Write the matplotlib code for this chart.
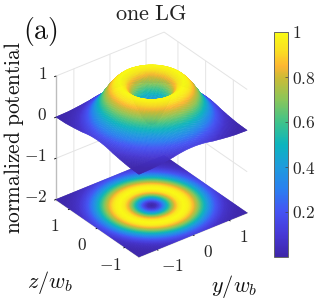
import numpy as np
import matplotlib
matplotlib.use("Agg")
import matplotlib.pyplot as plt
from matplotlib.colors import LinearSegmentedColormap, Normalize
from matplotlib.cm import ScalarMappable
from matplotlib.ticker import NullFormatter

plt.rcParams["mathtext.fontset"] = "cm"
plt.rcParams["font.family"] = ["cmr10", "DejaVu Sans"]
plt.rcParams["axes.unicode_minus"] = False
plt.rcParams["axes.formatter.use_mathtext"] = True

# radial potential profile
radius = [0, .1, .2, .3, .4, .5, .6, .7, .8, .9, 1.0, 1.1, 1.2, 1.3, 1.4, 1.5, 1.6, 1.7, 1.8, 1.9, 2.2]
potential = [0, .05, .20, .41, .63, .82, .95, 1.0, .97, .87, .74, .59, .44, .31, .21, .14, .08, .05, .03, .015, .003]
axis_range = (-1.5, 1.5)
z_range = (-2, 1)
xy_ticks = [-1, 0, 1]
xy_labels = ["$-1$", "$0$", "$1$"]
z_ticks = [-2, -1, 0, 1]
z_labels = ["$-2$", "$-1$", "$0$", "$1$"]
cb_ticks = [0.2, 0.4, 0.6, 0.8, 1]
cb_labels = ["$0.2$", "$0.4$", "$0.6$", "$0.8$", "$1$"]
floor_level = -2
parula = [(0, "#3E26A8"), (.1, "#4738D6"), (.2, "#4553F3"), (.3, "#2A7FF0"), (.4, "#1E9BDD"),
          (.5, "#0CB4BE"), (.6, "#3FC38A"), (.7, "#8AC65A"), (.8, "#CDBB35"), (.85, "#FDB632"),
          (.92, "#FAE022"), (1, "#F9FB15")]

cmap = LinearSegmentedColormap.from_list("parula", parula, N=256)
norm = Normalize(0, 1)

W = 280
fig = plt.figure(figsize=(3.32, 2.99), dpi=100)
ax = fig.add_axes([(151.5 - .5135 * W) / 332, (154.5 - .5135 * W) / 299, W / 332, W / 299],
                  projection="3d", computed_zorder=False)
ax.patch.set_alpha(0)
ax.set_proj_type("ortho")
ax.view_init(elev=32, azim=-127.5)
ax.set_box_aspect((1, 1, 1.066), zoom=.838)

g = np.linspace(*axis_range, 121)
X, Y = np.meshgrid(g, g)
Z = np.interp(np.hypot(X, Y), radius, potential)
colors = cmap(norm(Z))

ax.plot_surface(X, Y, np.full_like(Z, floor_level), facecolors=colors, rstride=1, cstride=1,
                shade=False, linewidth=.3, antialiased=True, zorder=1)
ax.plot_surface(X, Y, Z, facecolors=colors, rstride=1, cstride=1,
                shade=False, linewidth=.3, antialiased=True, zorder=2)

ax.set_xlim(*axis_range, view_margin=0)
ax.set_ylim(*axis_range, view_margin=0)
ax.set_zlim(*z_range, view_margin=0)
ax.set_xticks(xy_ticks)
ax.set_yticks(xy_ticks)
ax.set_zticks(z_ticks)

for axis in (ax.xaxis, ax.yaxis, ax.zaxis):
    axis.set_pane_color((1, 1, 1, 0))
    axis.pane.set_edgecolor((1, 1, 1, 0))
    axis._axinfo["grid"].update(color="#E4E4E4", linewidth=.7)
    axis._axinfo["tick"].update(inward_factor=.15, outward_factor=0, linewidth={True: .6, False: .6}, color="#555555")
    axis.line.set_color("#BDBDBD")
    axis.line.set_linewidth(1)
    axis.label.set_visible(False)
    axis.offsetText.set_visible(False)
    axis.set_major_formatter(NullFormatter())
    for tick in axis.get_major_ticks():
        tick.label1.set_visible(False)
        tick.label2.set_visible(False)
ax.zaxis.set_ticks_position("upper")

tick_style = dict(fontsize=12.5, color="#262626", zorder=5)
for t, s in zip(xy_ticks, xy_labels):
    ax.text(t, -2.04, -2.16, s, ha="center", va="center", **tick_style)
    ax.text(-1.92, t, -2.27, s, ha="center", va="center", **tick_style)
for t, s in zip(z_ticks, z_labels):
    ax.text(-1.658, 1.62, t + .06, s, ha="right", va="center", **tick_style)

fig.text(151 / 332, 1 - 14 / 299, r"$\mathrm{one\ LG}$", fontsize=16, ha="center", va="center", color="#222222")
fig.text(40 / 332, 1 - 32 / 299, r"$\mathrm{(a)}$", fontsize=20, ha="center", va="center", color="#111111")
fig.text(14 / 332, 1 - 138 / 299, r"$\mathrm{normalized\ potential}$", fontsize=15.4, rotation=90, ha="center", va="center", color="#111111")
fig.text(50 / 332, 1 - 283 / 299, r"$z/w_b$", fontsize=16, ha="center", va="center", color="#111111")
fig.text(234 / 332, 1 - 287 / 299, r"$y/w_b$", fontsize=16, ha="center", va="center", color="#111111")

cax = fig.add_axes([273.5 / 332, 1 - 257 / 299, 14.5 / 332, 225 / 299])
cb = fig.colorbar(ScalarMappable(norm=norm, cmap=cmap), cax=cax)
cb.set_ticks(cb_ticks, labels=cb_labels)
cb.ax.tick_params(labelsize=12.5, length=2, width=.5, direction="in", pad=3, color="#444444", labelcolor="#262626")
cb.outline.set_edgecolor("#666666")
cb.outline.set_linewidth(.7)

fig.savefig("out.png", dpi=100)
